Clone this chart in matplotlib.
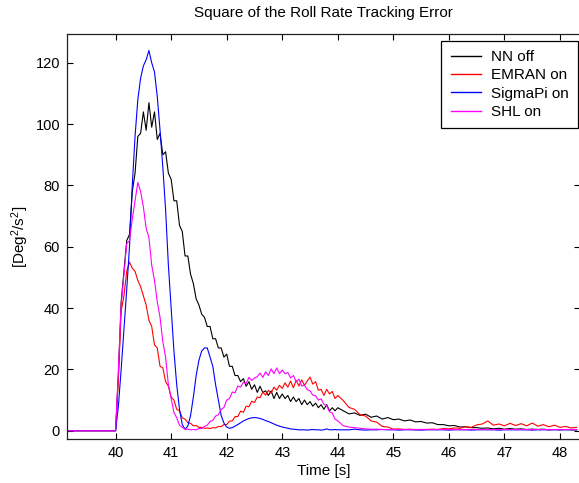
import numpy as np
import matplotlib
matplotlib.use("Agg")
import matplotlib.pyplot as plt

plt.rcParams['font.family'] = ['Liberation Sans', 'DejaVu Sans']
plt.rcParams['mathtext.default'] = 'regular'

# time grids (s)
t_pre = [39.10]
t_a = np.round(np.arange(40.00, 44.001, 0.05), 2)   # 81 samples
t_b = np.round(np.arange(44.1, 48.301, 0.1), 2)     # 43 samples

nn_off_a = [0, 18, 42, 52, 62, 64, 78, 84, 96, 97, 104, 98, 107, 99, 104, 95, 97, 90, 91, 84,
            82, 75, 75, 67, 65, 57, 57, 51, 48, 43, 41, 38, 37, 34, 34, 30, 30, 27, 27, 24,
            25, 21, 21, 18, 18, 16, 17, 14.5, 16, 13.5, 15, 12.5, 14.5, 12.5, 13, 11.5, 13, 10.5, 12.5, 10.5,
            12, 10.5, 11.5, 9.5, 11, 9.5, 10.5, 8.5, 10, 8.5, 9.5, 8, 9, 7.5, 8.5, 7, 8.5, 6.5, 7.5, 6.5,
            7.5]
nn_off_b = [6.5, 5.5, 5.8, 5.0, 5.4, 4.4, 4.8, 3.8, 4.3, 3.6, 3.8, 3.2, 3.5, 2.9, 3.0, 2.5, 2.6, 2.0, 2.0, 1.6,
            1.7, 1.2, 1.3, 1.0, 1.0, 0.8, 0.9, 0.6, 0.8, 0.5, 0.7, 0.5, 0.6, 0.4, 0.5, 0.4, 0.5, 0.3, 0.4, 0.3,
            0.4, 0.3, 0.3]

emran_a = [0, 17, 39, 44, 52, 55, 53, 52, 49, 47, 44, 41, 36, 34, 28, 27, 21, 20.5, 16, 14.5,
           11, 10, 7, 6.5, 4.2, 3.8, 2.6, 2.4, 1.6, 1.7, 1.1, 1.1, 0.8, 0.9, 0.7, 1.0, 0.9, 1.4, 1.3, 2.0,
           2.0, 3.1, 3.2, 4.6, 4.6, 6.4, 6.0, 8.0, 7.8, 9.6, 9.2, 11.0, 10.8, 12.6, 11.6, 13.2, 12.2, 14.2, 13.2, 14.8,
           13.8, 15.6, 14.2, 16.2, 14.0, 16.4, 14.6, 16.6, 14.8, 16.2, 17.5, 15.2, 16.0, 13.2, 13.5, 11.5, 13.5, 12.0, 12.8, 10.5,
           11.5]
emran_b = [9.8, 7.6, 7.0, 5.2, 4.8, 3.2, 2.8, 1.4, 1.2, 0.5, 0.6, 0.4, 0.5, 0.3, 0.4, 0.4, 0.5, 0.4, 0.7, 0.6,
           0.9, 0.8, 1.3, 1.1, 1.9, 2.2, 3.2, 1.8, 2.2, 1.6, 2.4, 1.7, 2.3, 1.6, 2.5, 1.5, 2.0, 1.3, 1.8, 1.1,
           1.4, 0.9, 1.1]

sigmapi_a = [0, 8, 20, 33, 46, 60, 80, 96, 108, 115, 119, 121, 124, 120, 117, 109, 98, 86, 72, 54,
             40, 26, 15, 7, 2, 0.5, 1.5, 5, 11, 18, 23, 26, 27, 27, 24, 21, 15, 10, 5, 2.5,
             1.2, 0.8, 1, 1.5, 2, 2.6, 3.2, 3.6, 4, 4.2, 4.3, 4.2, 4, 3.7, 3.3, 3, 2.6, 2.2, 1.8, 1.5,
             1.2, 1, 0.8, 0.6, 0.5, 0.4, 0.3, 0.3, 0.3, 0.2, 0.3, 0.4, 0.3, 0.3, 0.2, 0.3, 0.6, 0.3, 0.3, 0.4,
             0.3]
sigmapi_b = [0.3, 0.3, 0.5, 0.3, 0.2, 0.3, 0.3, 0.4, 0.3, 0.3, 0.2, 0.3, 0.3, 0.3, 0.2, 0.3, 0.3, 0.3, 0.3, 0.2,
             0.3, 0.3, 0.3, 0.2, 0.3, 0.3, 0.3, 0.3, 0.2, 0.3, 0.3, 0.3, 0.3, 0.3, 0.2, 0.3, 0.3, 0.3, 0.3, 0.3,
             0.3, 0.3, 0.3]

shl_a = [0, 20, 41, 51, 61, 62, 69, 75, 81, 78, 73, 66, 63, 54, 49, 42, 37, 29, 24, 15,
         10.5, 6, 4.2, 1.8, 1.1, 0.5, 0.5, 0.3, 0.4, 0.3, 0.7, 0.7, 1.4, 1.8, 3.0, 3.4, 4.8, 5.2, 6.9, 7.6,
         10.0, 10.5, 12.6, 12.4, 14.6, 14.2, 15.8, 15.4, 17.4, 16.4, 17.2, 17.6, 18.8, 17.4, 19.2, 18.0, 20.2, 18.6, 20.5, 18.6,
         19.8, 18.6, 19.0, 17.2, 18.0, 16.0, 16.8, 14.6, 14.8, 13.4, 13.0, 11.6, 11.4, 10.0, 10.4, 8.6, 8.2, 6.2, 5.8, 3.8,
         3.2]
shl_b = [1.6, 1.2, 1.0, 0.8, 0.6, 0.5, 0.5, 0.4, 0.4, 0.4, 0.4, 0.4, 0.4, 0.4, 0.4, 0.4, 0.4, 0.4, 0.4, 0.4,
         0.4, 0.4, 0.4, 0.4, 0.4, 0.4, 0.4, 0.4, 0.4, 0.4, 0.4, 0.4, 0.4, 0.4, 0.4, 0.4, 0.4, 0.4, 0.4, 0.4,
         0.4, 0.4, 0.4]

labels = ['NN off', 'EMRAN on', 'SigmaPi on', 'SHL on']
colors = ['black', 'red', 'blue', 'magenta']
series = [(nn_off_a, nn_off_b), (emran_a, emran_b), (sigmapi_a, sigmapi_b), (shl_a, shl_b)]

t = np.concatenate([t_pre, t_a, t_b])

W, H = 579, 483
fig = plt.figure(figsize=(W / 100, H / 100), dpi=100)
ax = fig.add_axes([67 / W, 1 - 439 / H, (580 - 67) / W, (439 - 34) / H])

for (a, b), lab, c in zip(series, labels, colors):
    y = np.concatenate([[0], a, b])
    ax.plot(t, y, color=c, lw=0.8, label=lab)

ax.set_xlim(39.125, 48.36)
ax.set_ylim(-2.7, 129.4)
ax.set_xticks(range(40, 49))
ax.set_yticks(range(0, 121, 20))
ax.tick_params(direction='in', top=True, right=True, length=4, width=0.8,
               labelsize=10.5, colors='black', pad=5)
for s in ax.spines.values():
    s.set_linewidth(0.9)
    s.set_color('#222222')

ax.set_title('Square of the Roll Rate Tracking Error', fontsize=11, pad=12)
ax.set_xlabel('Time [s]', fontsize=11, labelpad=3)
ax.set_ylabel('[Deg$^2$/s$^2$]', fontsize=11, labelpad=3)

leg = ax.legend(loc='upper right', bbox_to_anchor=(578 / W, 1 - 41 / H),
                bbox_transform=fig.transFigure, borderaxespad=0,
                fontsize=11, frameon=True, fancybox=False, framealpha=1,
                edgecolor='black', handlelength=2.0, labelspacing=0.28,
                handletextpad=0.65, borderpad=0.6)
leg.get_frame().set_linewidth(0.9)
for line in leg.get_lines():
    line.set_linewidth(1.0)

fig.savefig('out.png', dpi=100)
